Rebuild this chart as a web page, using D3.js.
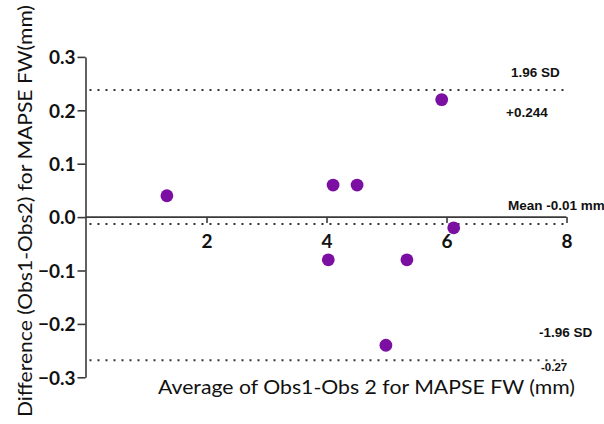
<!DOCTYPE html>
<html>
<head>
<meta charset="utf-8">
<script src="https://cdn.jsdelivr.net/npm/d3@7/dist/d3.min.js"></script>
<style>
  html, body { margin: 0; padding: 0; background: #fff; }
  svg { display: block; }
</style>
</head>
<body>
<svg id="chart" width="604" height="424"></svg>
<script>
// ---- data ----
const avgValues  = [1.34, 4.11, 4.51, 5.92, 6.12, 4.03, 5.34, 4.99];
const diffValues = [0.04, 0.06, 0.06, 0.22, -0.02, -0.08, -0.08, -0.24];
const xTicks = [2, 4, 6, 8];
const yTicks = [0.3, 0.2, 0.1, 0.0, -0.1, -0.2, -0.3];
const limitValues = [0.238, -0.013, -0.268];   // upper LoA, mean, lower LoA (as drawn)
const limitLabelsAbove = ["1.96 SD", "Mean -0.01 mm", "-1.96 SD"];
const limitLabelsBelow = ["+0.244", "", "-0.27"];
const xTitle = "Average of Obs1-Obs 2 for MAPSE FW (mm)";
const yTitle = "Difference (Obs1-Obs2) for MAPSE FW(mm)";

// ---- layout ----
const svg = d3.select("#chart");
const x = d3.scaleLinear().domain([0, 8]).range([86.5, 566.5]);
const y = d3.scaleLinear().domain([-0.3, 0.3]).range([377.3, 56.9]);
const axisColor = "#3a3a3a";
const tickFont = "Lato, 'Open Sans', sans-serif";

// dotted limit lines
svg.append("g").selectAll("line")
  .data(limitValues)
  .join("line")
  .attr("x1", x(0.05)).attr("x2", x(8))
  .attr("y1", d => y(d)).attr("y2", d => y(d))
  .attr("stroke", "#333")
  .attr("stroke-width", 2)
  .attr("stroke-dasharray", "2,6");

// x axis at y = 0
const xAxis = svg.append("g")
  .attr("transform", `translate(0,${y(0)})`)
  .call(d3.axisBottom(x).tickValues(xTicks).tickSizeInner(6).tickSizeOuter(0).tickFormat(d3.format("d")));
xAxis.select(".domain").attr("d", `M${x(0) - 1},0H${x(8)}`).attr("stroke", axisColor).attr("stroke-width", 1.6);
xAxis.selectAll(".tick line").attr("stroke", axisColor).attr("stroke-width", 1.6);
xAxis.selectAll(".tick text")
  .attr("y", 31).attr("dy", 0)
  .attr("fill", "#111")
  .style("font-family", tickFont).style("font-weight", "bold").style("font-size", "19px");

// y axis
const yAxis = svg.append("g")
  .attr("transform", `translate(${x(0) - 1},0)`)
  .call(d3.axisLeft(y).tickValues(yTicks).tickSizeInner(8).tickSizeOuter(0).tickPadding(2).tickFormat(d3.format(".1f")));
yAxis.select(".domain").attr("stroke", axisColor).attr("stroke-width", 1.6);
yAxis.selectAll(".tick line").attr("stroke", axisColor).attr("stroke-width", 1.6);
yAxis.selectAll(".tick text")
  .attr("dy", "0.36em")
  .attr("fill", "#111")
  .style("font-family", tickFont).style("font-weight", "bold").style("font-size", "19px");

// points
svg.append("g").selectAll("circle")
  .data(avgValues.map((a, i) => [a, diffValues[i]]))
  .join("circle")
  .attr("cx", d => x(d[0]))
  .attr("cy", d => y(d[1]))
  .attr("r", 6.4)
  .attr("fill", "#7a0fa2");

// limit labels
const annFont = "'Liberation Sans', Arial, sans-serif";
const aboveX = [511, 508, 539];
const aboveDy = [-13, -14, -23];
svg.append("g").selectAll("text")
  .data(limitValues)
  .join("text")
  .attr("x", (d, i) => aboveX[i])
  .attr("y", (d, i) => y(d) + aboveDy[i])
  .text((d, i) => limitLabelsAbove[i])
  .attr("fill", "#111")
  .style("font-family", annFont).style("font-weight", "bold").style("font-size", "13.5px");
const belowX = [506, 0, 541];
const belowDy = [27, 0, 10.5];
const belowSize = ["13.5px", "13.5px", "11.5px"];
svg.append("g").selectAll("text")
  .data(limitValues)
  .join("text")
  .attr("x", (d, i) => belowX[i])
  .attr("y", (d, i) => y(d) + belowDy[i])
  .text((d, i) => limitLabelsBelow[i])
  .attr("fill", "#111")
  .style("font-family", annFont).style("font-weight", "bold")
  .style("font-size", (d, i) => belowSize[i]);

// axis titles
svg.append("text")
  .attr("x", 158).attr("y", 394)
  .attr("textLength", 417).attr("lengthAdjust", "spacingAndGlyphs")
  .attr("fill", "#111")
  .style("font-family", tickFont).style("font-size", "20px")
  .text(xTitle);

svg.append("text")
  .attr("transform", "translate(32,417) rotate(-90)")
  .attr("x", 0).attr("y", 0)
  .attr("textLength", 412).attr("lengthAdjust", "spacingAndGlyphs")
  .attr("fill", "#111")
  .style("font-family", tickFont).style("font-size", "20px")
  .text(yTitle);
</script>
</body>
</html>
